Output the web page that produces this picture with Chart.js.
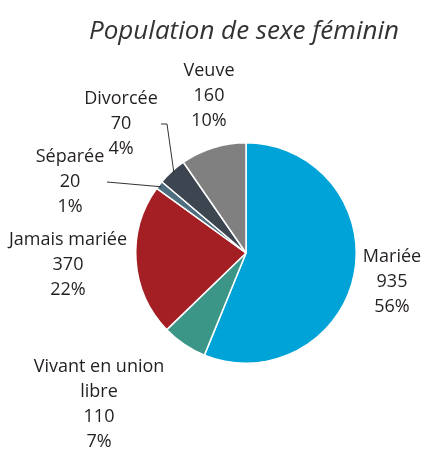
<!DOCTYPE html>
<html>
<head>
<meta charset="utf-8">
<script src="https://cdn.jsdelivr.net/npm/chart.js@4"></script>
<style>
  html, body { margin: 0; padding: 0; background: #fff; }
  #wrap { width: 422px; height: 449px; }
</style>
</head>
<body>
<div id="wrap"><canvas id="pieChart" width="422" height="449"></canvas></div>
<script>
const chartTitle = "Population de sexe féminin";
const categories = ["Mariée", "Vivant en union libre", "Jamais mariée", "Séparée", "Divorcée", "Veuve"];
const counts = [935, 110, 370, 20, 70, 160];
const percents = ["56%", "7%", "22%", "1%", "4%", "10%"];

const sliceColors = ["#00a3d7", "#3b9687", "#a31f23", "#4d6f80", "#3d4550", "#808080"];

// label text lines for each slice
const labelLines = [
  ["Mariée"],
  ["Vivant en union", "libre"],
  ["Jamais mariée"],
  ["Séparée"],
  ["Divorcée"],
  ["Veuve"],
];
// label anchor (centre of first line), relative to the pie centre
const labelOffsets = [[146, 4], [-147, 114], [-178, -13], [-176, -96], [-125, -154], [-37, -182]];
// leader lines: start point relative to pie centre, optional elbow
const leaders = {
  3: { from: [-139, -71] },
  4: { from: [-85, -129], elbow: [-79, -129] },
};

// the built-in title gets squeezed by the layout padding, so draw it here
const titlePlugin = {
  id: "wideTitle",
  afterDraw(chart) {
    const ctx = chart.ctx;
    ctx.save();
    ctx.fillStyle = "#333";
    ctx.font = "italic 26px 'Open Sans'";
    ctx.textAlign = "center";
    ctx.textBaseline = "alphabetic";
    ctx.fillText(chartTitle, 244, 39);
    ctx.restore();
  },
};

const labelPlugin = {
  id: "sliceLabels",
  afterDraw(chart) {
    const ctx = chart.ctx;
    const arcs = chart.getDatasetMeta(0).data;
    const cx = arcs[0].x;
    const cy = arcs[0].y;
    ctx.save();
    ctx.fillStyle = "#231f20";
    ctx.font = "18px 'Open Sans'";
    ctx.textAlign = "center";
    ctx.textBaseline = "middle";
    arcs.forEach((arc, i) => {
      const [dx, dy] = labelOffsets[i];
      const lines = labelLines[i].concat([String(counts[i]), percents[i]]);
      lines.forEach((line, j) => {
        ctx.fillText(line, cx + dx, cy + dy + j * 25);
      });
      const leader = leaders[i];
      if (leader) {
        const mid = (arc.startAngle + arc.endAngle) / 2;
        const r = arc.outerRadius - 3;
        ctx.strokeStyle = "#333";
        ctx.lineWidth = 1;
        ctx.beginPath();
        ctx.moveTo(cx + leader.from[0], cy + leader.from[1]);
        if (leader.elbow) ctx.lineTo(cx + leader.elbow[0], cy + leader.elbow[1]);
        ctx.lineTo(cx + Math.cos(mid) * r, cy + Math.sin(mid) * r);
        ctx.stroke();
      }
    });
    ctx.restore();
  },
};

new Chart(document.getElementById("pieChart"), {
  type: "pie",
  data: {
    labels: categories,
    datasets: [
      {
        data: counts,
        backgroundColor: sliceColors,
        borderColor: "#ffffff",
        borderWidth: 1.5,
      },
    ],
  },
  options: {
    responsive: false,
    animation: false,
    layout: { padding: { left: 135, right: 65, top: 142, bottom: 85 } },
    plugins: {
      legend: { display: false },
      tooltip: { enabled: false },
      title: { display: false },
    },
  },
  plugins: [labelPlugin, titlePlugin],
});
</script>
</body>
</html>
